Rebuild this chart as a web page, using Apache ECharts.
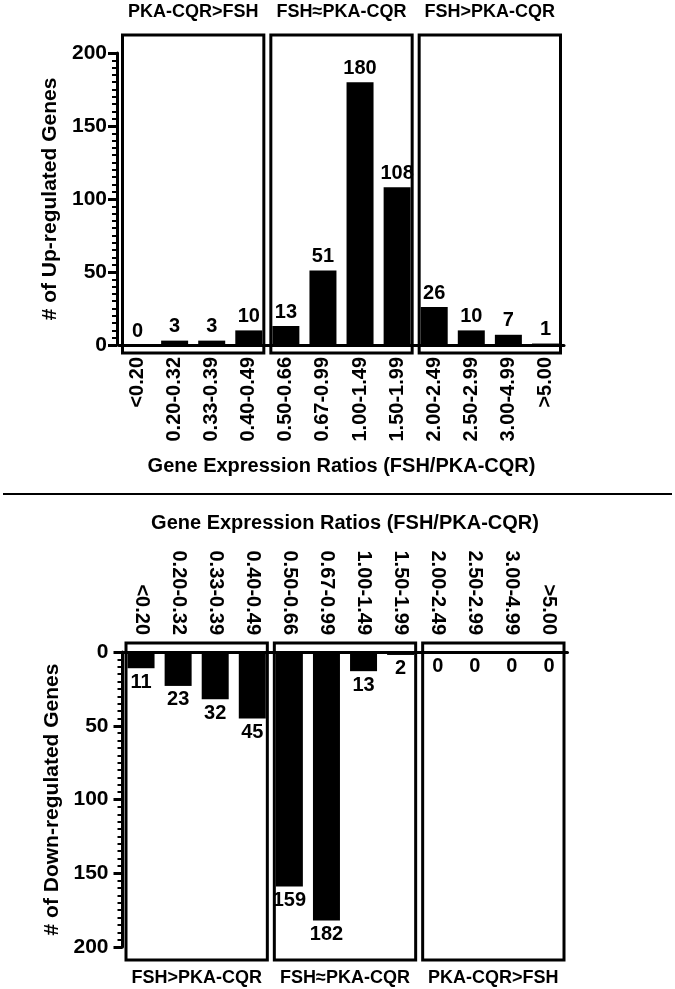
<!DOCTYPE html>
<html><head><meta charset="utf-8">
<script src="https://cdn.jsdelivr.net/npm/echarts@6/dist/echarts.min.js"></script>
<style>html,body{margin:0;padding:0;background:#fff}#c{width:675px;height:989px}</style>
</head><body><div id="c"></div>
<script>
const categories = ['<0.20','0.20-0.32','0.33-0.39','0.40-0.49','0.50-0.66','0.67-0.99','1.00-1.49','1.50-1.99','2.00-2.49','2.50-2.99','3.00-4.99','>5.00'];
const upValues = [0,3,3,10,13,51,180,108,26,10,7,1];
const downValues = [11,23,32,45,159,182,13,2,0,0,0,0];
const yTicks = [0,50,100,150,200];
const upGroups = ['PKA-CQR>FSH','FSH≈PKA-CQR','FSH>PKA-CQR'];
const downGroups = ['FSH>PKA-CQR','FSH≈PKA-CQR','PKA-CQR>FSH'];
const xName = 'Gene Expression Ratios (FSH/PKA-CQR)';
const upYName = '# of Up-regulated Genes';
const downYName = '# of Down-regulated Genes';

const FF = '"Liberation Sans", Arial, Helvetica, sans-serif';
const txt = (size) => ({color:'#000', fontSize:size, fontWeight:'bold', fontFamily:FF});

function yAxisCfg(grid, name, inverse, offset, margin, gap){
  return {
    gridIndex:grid, type:'value', inverse:inverse,
    min:yTicks[0], max:yTicks[yTicks.length-1], interval:yTicks[1]-yTicks[0],
    offset:offset,
    axisLine:{show:true, lineStyle:{color:'#000', width:3}},
    axisTick:{show:true, length:9, lineStyle:{color:'#000', width:3}},
    minorTick:{show:true, splitNumber:10, length:5, lineStyle:{color:'#000', width:2}},
    splitLine:{show:false}, minorSplitLine:{show:false},
    axisLabel:Object.assign({margin:margin}, txt(21)),
    name:name, nameLocation:'middle', nameGap:gap, nameTextStyle:txt(21)
  };
}
function xAxisCfg(grid, pos, margin, gap){
  return {
    gridIndex:grid, type:'category', data:categories, position:pos,
    axisLine:{show:true, onZero:false, lineStyle:{color:'#000', width:3}},
    axisTick:{show:false},
    axisLabel:Object.assign({rotate:90, margin:margin, interval:0, hideOverlap:false}, txt(20)),
    name:xName, nameLocation:'middle', nameGap:gap, nameTextStyle:txt(20)
  };
}

const option = {
  animation:false,
  backgroundColor:'#fff',
  grid:[
    {left:119, right:111, top:53, bottom:644, outerBoundsMode:'none'},
    {left:122.5, right:107.5, top:652, bottom:42, outerBoundsMode:'none'}
  ],
  xAxis:[ xAxisCfg(0,'bottom',12,111), xAxisCfg(1,'top',17,119) ],
  yAxis:[ yAxisCfg(0, upYName, false, 2, 10, 51), yAxisCfg(1, downYName, true, 0, 14, 56) ],
  series:[
    {type:'bar', xAxisIndex:0, yAxisIndex:0, data:upValues, barWidth:27,
     itemStyle:{color:'#000'},
     label:Object.assign({show:true, position:'top', distance:4}, txt(20))},
    {type:'bar', xAxisIndex:1, yAxisIndex:1, data:downValues, barWidth:27,
     itemStyle:{color:'#000'},
     label:Object.assign({show:true, position:'bottom', distance:4}, txt(20))}
  ]
};

const chart = echarts.init(document.getElementById('c'), null, {renderer:'canvas'});
chart.setOption(option);

function buildPanels(gi, groups, top){
  const px = (c) => chart.convertToPixel({xAxisIndex:gi}, c);
  const py = (v) => chart.convertToPixel({yAxisIndex:gi}, v);
  const bw = px(categories[1]) - px(categories[0]);
  const els = [];
  const y0px = py(yTicks[0]), yMpx = py(yTicks[yTicks.length-1]);
  let yA, yB, ty;
  if(top){ yA = yMpx - 18; yB = y0px + 8; ty = 12; }
  else { yA = y0px - 9; yB = yMpx + 13; ty = 978; }
  for(let g=0; g<groups.length; g++){
    const x0 = px(categories[4*g]) - bw/2 + 3.5;
    const x1 = px(categories[4*g+3]) + bw/2 - 3.5;
    els.push({type:'rect', z:-1, shape:{x:x0, y:yA, width:x1-x0, height:yB-yA},
      style:{fill:'none', stroke:'#000', lineWidth:3}});
    els.push({type:'text', x:(x0+x1)/2, y:ty,
      style:{text:groups[g], align:'center', verticalAlign:'middle', fill:'#000',
        fontSize:18, fontWeight:'bold', fontFamily:FF}});
  }
  return els;
}
const graphics = [].concat(buildPanels(0, upGroups, true), buildPanels(1, downGroups, false));
graphics.push({type:'line', shape:{x1:3, y1:494, x2:672, y2:494}, style:{stroke:'#000', lineWidth:2}});
chart.setOption({graphic:graphics});
</script>
</body></html>
